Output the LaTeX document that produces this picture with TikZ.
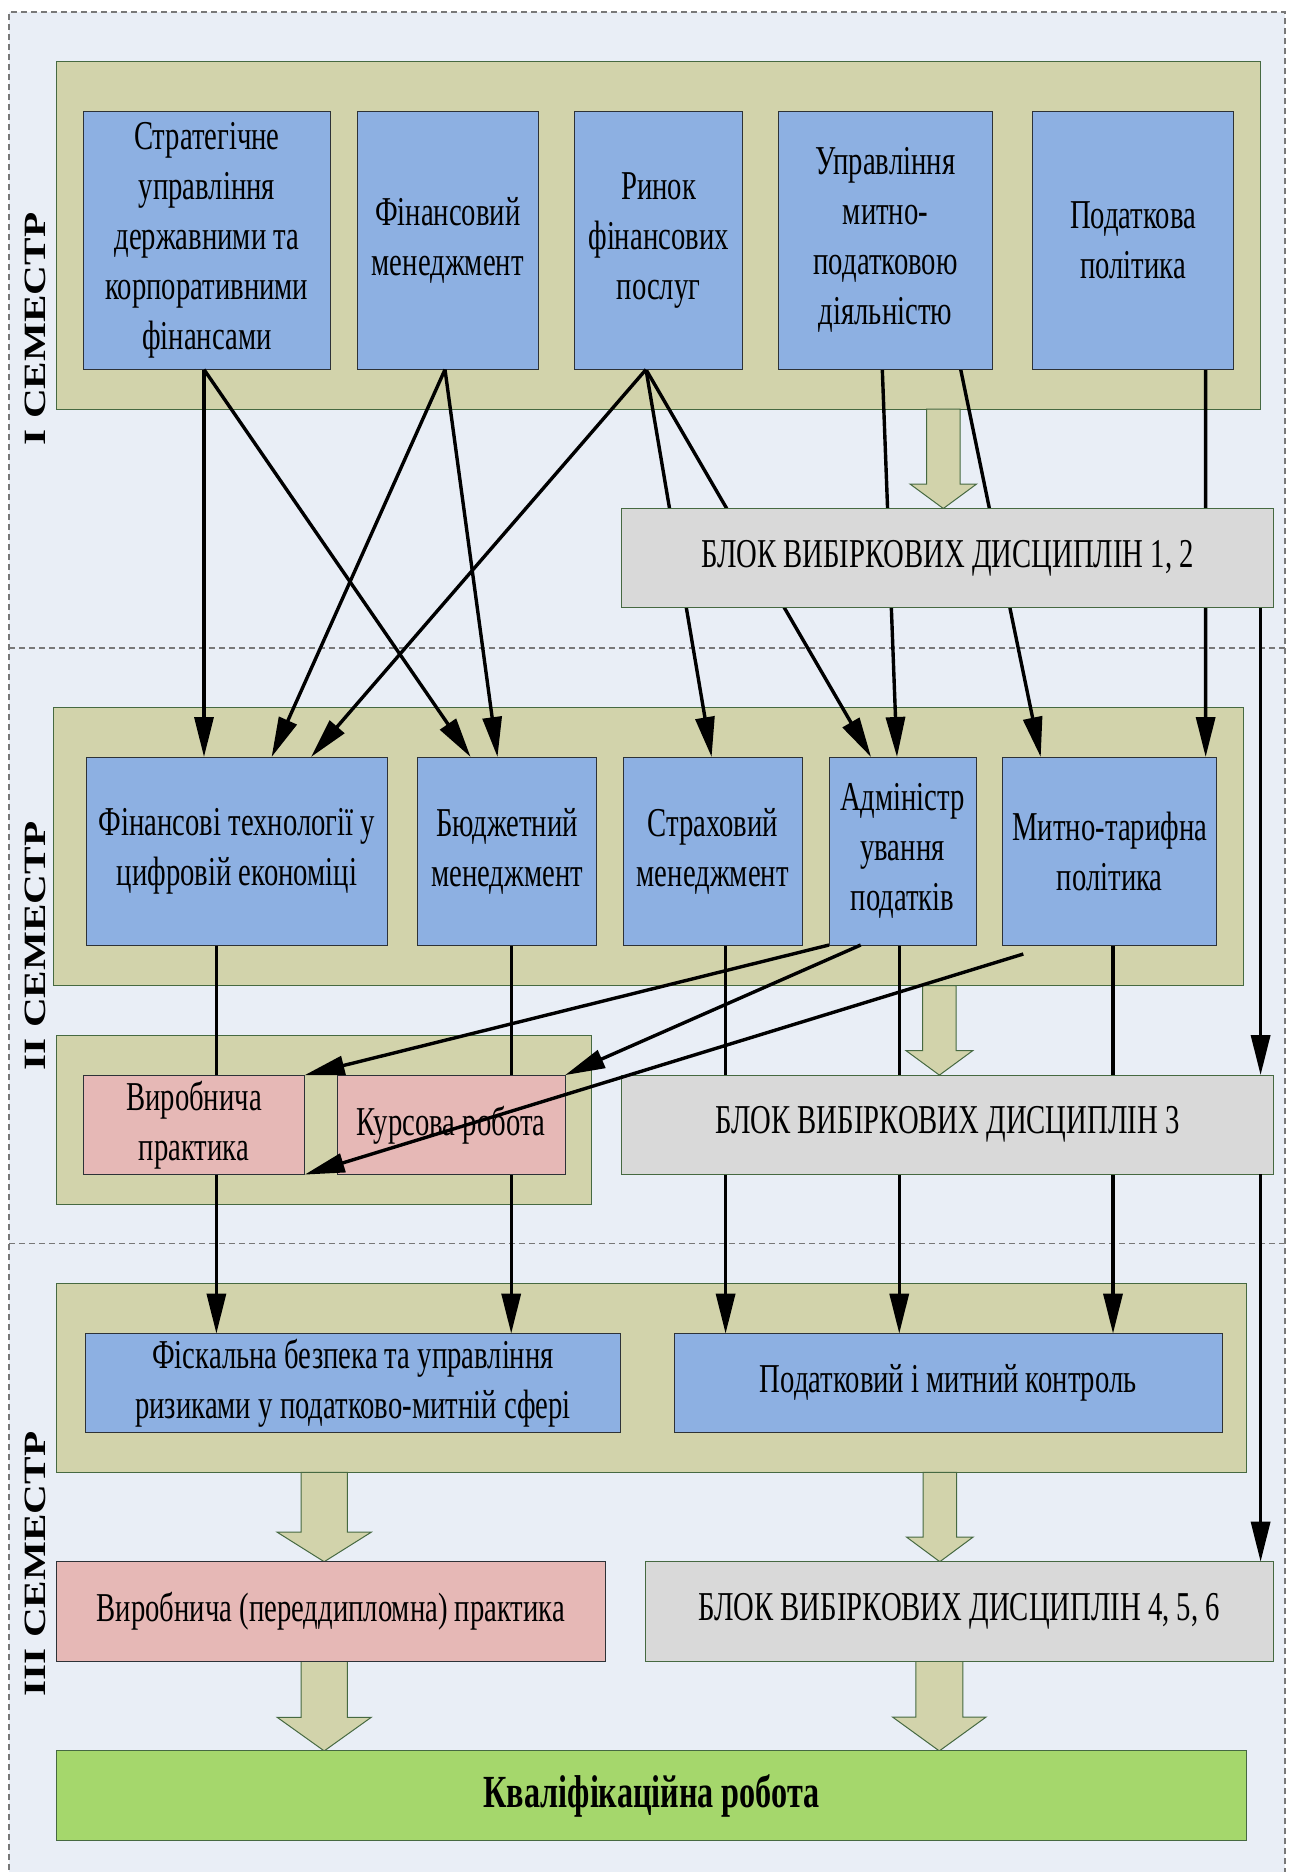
\documentclass[tikz,border=0pt]{standalone}
\usepackage{fontspec}
\setmainfont{Liberation Serif}[FakeStretch=0.7]
\newfontfamily\lblfont{Liberation Serif}[FakeStretch=1.33]
\usetikzlibrary{arrows.meta,calc}
\pgfdeclarelayer{bg}
\pgfdeclarelayer{mid}
\pgfsetlayers{bg,mid,main}
\definecolor{framebg}{RGB}{233,238,246}
\definecolor{framedash}{RGB}{120,120,120}
\definecolor{olive}{RGB}{210,211,171}
\definecolor{oliveline}{RGB}{70,105,65}
\definecolor{boxblue}{RGB}{141,176,226}
\definecolor{boxgrey}{RGB}{217,217,217}
\definecolor{boxpink}{RGB}{230,184,182}
\definecolor{boxgreen}{RGB}{165,215,108}
\definecolor{boxline}{RGB}{45,50,55}
\tikzset{
  panel/.style={draw=oliveline, line width=1pt, fill=olive, inner sep=0pt, outer sep=0pt},
  box/.style={line width=1pt, inner sep=0pt, outer sep=0pt, align=center,
    font=\fontsize{41}{50}\selectfont},
  bluebox/.style={box, draw=boxline, fill=boxblue},
  greybox/.style={box, draw=oliveline, fill=boxgrey},
  pinkbox/.style={box, draw=boxline, fill=boxpink},
  greenbox/.style={box, draw=oliveline, fill=boxgreen},
  conn/.style={line width=3.4pt, -{Triangle[length=40pt,width=19pt]}},
  fat/.style={draw=oliveline, line width=1pt, fill=olive},
  semlabel/.style={rotate=90, font=\lblfont\bfseries\fontsize{31}{31}\selectfont},
  divider/.style={draw=framedash, line width=1.2pt, dash pattern=on 6pt off 4pt},
}
% #1 x centre, #2 y start, #3 y tip, #4 half shaft, #5 half head, #6 head length
\newcommand\fatarr[6]{%
  \filldraw[fat] ({#1-#4},#2) -- ({#1-#4},{#3-#6}) -- ({#1-#5},{#3-#6}) -- (#1,#3)
    -- ({#1+#5},{#3-#6}) -- ({#1+#4},{#3-#6}) -- ({#1+#4},#2) -- cycle;}
\begin{document}
\begin{tikzpicture}[x=1pt,y=-1pt]
\useasboundingbox (0,0) rectangle (1293,1872);
\clip (0,0) rectangle (1293,1872);
\begin{pgfonlayer}{bg}
  \fill[white] (0,0) rectangle (1293,1872);
  \fill[framebg] (9,12) rectangle (1285,1880);
  \draw[divider] (9,1880) -- (9,12) -- (1285,12) -- (1285,1880);
  \draw[divider] (9,648) -- (1285,648);
  \draw[divider] (9,1243.5) -- (1285,1243.5);
  % panels
  \node[panel, minimum width=1204.2pt, minimum height=347.6pt] (p1) at (658.5,235.2) {};
  \node[panel, minimum width=1190.5pt, minimum height=278.2pt] (p2) at (648.25,846.5) {};
  \node[panel, minimum width=535.2pt, minimum height=168.8pt] (pp) at (324,1119.7) {};
  \node[panel, minimum width=1190.4pt, minimum height=189.2pt] (p3) at (651.6,1377.8) {};
  % fat arrows
  \fatarr{943.3}{409}{508.5}{16.7}{33.3}{24.5}
  \fatarr{939.4}{985.6}{1075.1}{16.7}{33.4}{24.5}
  \fatarr{324.2}{1472.4}{1561.7}{23.2}{47}{29.5}
  \fatarr{939.8}{1472.4}{1561.7}{16.75}{33.35}{24.7}
  \fatarr{324.2}{1661.2}{1750.9}{23.2}{47}{33.6}
  \fatarr{939.3}{1661.2}{1750.9}{23.5}{46.8}{33.9}
\end{pgfonlayer}

% semester labels
\node[semlabel] (sem1) at (35,329) {I СЕМЕСТР};
\node[semlabel] (sem2) at (35,946) {II СЕМЕСТР};
\node[semlabel] (sem3) at (35,1564) {III СЕМЕСТР};

% semester I
\node[bluebox, minimum width=247.1pt, minimum height=258.4pt] (s1a) at (206.85,240.3)
  {Стратегічне\\управління\\державними та\\корпоративними\\фінансами};
\node[bluebox, minimum width=180.7pt, minimum height=258.4pt] (s1b) at (447.75,240.3)
  {Фінансовий\\менеджмент};
\node[bluebox, minimum width=167.4pt, minimum height=258.4pt] (s1c) at (658.6,240.3)
  {Ринок\\фінансових\\послуг};
\node[bluebox, minimum width=214.4pt, minimum height=258.4pt] (s1d) at (885.5,240.3)
  {Управління\\митно-\\податковою\\діяльністю};
\node[bluebox, minimum width=200.7pt, minimum height=258.4pt] (s1e) at (1133.15,240.3)
  {Податкова\\політика};
\node[greybox, minimum width=652pt, minimum height=99.2pt] (b12) at (947.6,558.2)
  {БЛОК ВИБІРКОВИХ ДИСЦИПЛІН 1, 2};

% semester II
\node[bluebox, minimum width=301.4pt, minimum height=188pt] (fin) at (236.9,851)
  {Фінансові технології у\\цифровій економіці};
\node[bluebox, minimum width=179.1pt, minimum height=188pt] (bud) at (507.05,851)
  {Бюджетний\\менеджмент};
\node[bluebox, minimum width=178.5pt, minimum height=188pt] (str) at (712.75,851)
  {Страховий\\менеджмент};
\node[bluebox, minimum width=147.1pt, minimum height=188pt] (adm) at (902.55,851)
  {Адміністр\\ування\\податків};
\node[bluebox, minimum width=214pt, minimum height=188pt] (myt) at (1109.8,851)
  {Митно-тарифна\\політика};
\node[pinkbox, minimum width=221.4pt, minimum height=99.5pt] (vyr) at (194,1124.85)
  {Виробнича\\практика};
\node[pinkbox, minimum width=227.6pt, minimum height=99.5pt] (kur) at (451.3,1124.85)
  {Курсова робота};
\node[greybox, minimum width=652pt, minimum height=99.3pt] (b3) at (947.5,1124.75)
  {БЛОК ВИБІРКОВИХ ДИСЦИПЛІН 3};

% semester III
\node[bluebox, minimum width=535.2pt, minimum height=99.1pt] (fis) at (353,1383.15)
  {Фіскальна безпека та управління\\ризиками у податково-митній сфері};
\node[bluebox, minimum width=548.1pt, minimum height=99.1pt] (pk) at (948.25,1383.15)
  {Податковий і митний контроль};
\node[pinkbox, minimum width=548.9pt, minimum height=99.5pt] (vyr2) at (330.85,1611.45)
  {Виробнича (переддипломна) практика};
\node[greybox, minimum width=628.5pt, minimum height=99.5pt] (b456) at (959.25,1611.45)
  {БЛОК ВИБІРКОВИХ ДИСЦИПЛІН 4, 5, 6};
\node[greenbox, minimum width=1190.4pt, minimum height=89.3pt, font=\bfseries\fontsize{46}{50}\selectfont] (kr) at (651.6,1795.55)
  {Кваліфікаційна робота};

% connectors passing behind boxes
\begin{pgfonlayer}{mid}
  \draw[conn] ([xshift=-12.6pt]s1c.south) -- ([xshift=-1.15pt]str.north);
  \draw[conn] ([xshift=-12.6pt]s1c.south) -- ([xshift=-31.55pt]adm.north);
  \draw[conn] ([xshift=-3.2pt]s1d.south) -- ([xshift=-5.55pt]adm.north);
  \draw[conn] ([xshift=75.2pt]s1d.south) -- ([xshift=-69.1pt]myt.north);
  \draw[conn] ([xshift=72.5pt]s1e.south) -- ([xshift=95.85pt]myt.north);
  \draw[conn] ([xshift=-20.5pt]fin.south) -- ([xshift=-136.6pt]fis.north);
  \draw[conn] ([xshift=4.15pt]bud.south) -- ([xshift=158.2pt]fis.north);
  \draw[conn] ([xshift=12.85pt]str.south) -- ([xshift=-222.65pt]pk.north);
  \draw[conn] ([xshift=-3.3pt]adm.south) -- ([xshift=-49pt]pk.north);
  \draw[conn] ([xshift=3.2pt]myt.south) -- ([xshift=164.75pt]pk.north);
\end{pgfonlayer}

% connectors on top
\draw[conn] ([xshift=-2.85pt]s1a.south) -- ([xshift=-32.9pt]fin.north);
\draw[conn] ([xshift=-2.85pt]s1a.south) -- ([xshift=-36.45pt]bud.north);
\draw[conn] ([xshift=-2.75pt]s1b.south) -- ([xshift=34.7pt]fin.north);
\draw[conn] ([xshift=-2.75pt]s1b.south) -- ([xshift=-9.55pt]bud.north);
\draw[conn] ([xshift=-12.6pt]s1c.south) -- ([xshift=74.1pt]fin.north);
\draw[conn] ([xshift=313pt]b12.south) -- ([xshift=313.1pt]b3.north);
\draw[conn] ([xshift=313.1pt]b3.south) -- ([xshift=301.35pt]b456.north);
\draw[conn] (adm.south west) -- (vyr.north east);
\draw[conn] ([xshift=31.7pt]adm.south west) -- (kur.north east);
\draw[conn] ([xshift=20.5pt,yshift=-9pt]myt.south west) -- (vyr.south east);
\end{tikzpicture}
\end{document}
